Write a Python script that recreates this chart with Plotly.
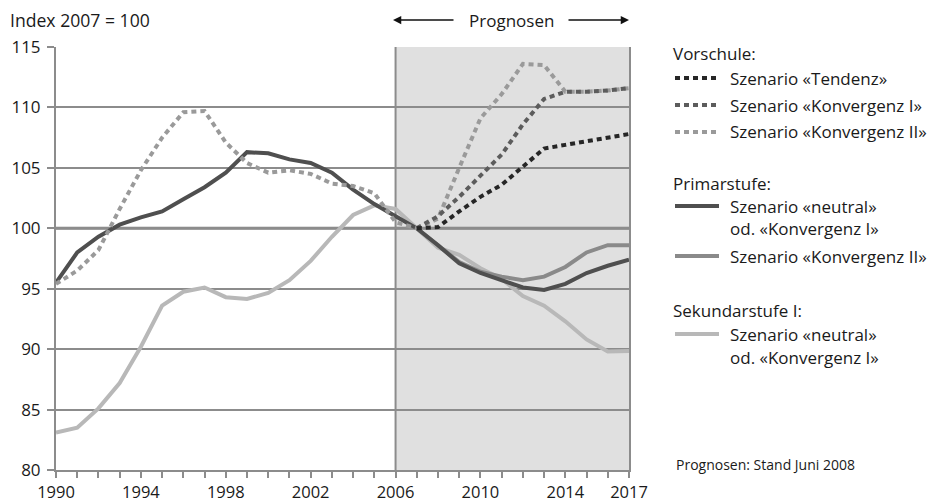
import plotly.graph_objects as go

# ---------------- data ----------------
years_hist = list(range(1990, 2008))
years_fc = list(range(2007, 2018))
years_all = list(range(1990, 2018))

# Vorschule (history, common to all scenarios)
vorschule_hist = [95.4, 96.5, 98.2, 101.6, 104.8, 107.5, 109.6, 109.7, 107.1, 105.4,
                  104.6, 104.8, 104.5, 103.7, 103.5, 102.9, 100.5, 100.0]
# Vorschule forecasts 2007-2017
vs_tendenz = [100.0, 100.1, 101.4, 102.6, 103.6, 105.1, 106.6, 106.9, 107.2, 107.5, 107.8]
vs_konv1 = [100.0, 101.0, 102.6, 104.3, 106.1, 108.6, 110.7, 111.3, 111.3, 111.4, 111.6]
vs_konv2 = [100.0, 100.8, 105.0, 109.1, 111.1, 113.6, 113.5, 111.3, 111.3, 111.4, 111.6]

# Primarstufe 1990-2017 (neutral / Konvergenz I)
primar = [95.5, 98.0, 99.3, 100.3, 100.9, 101.4, 102.4, 103.4, 104.6, 106.3,
          106.2, 105.7, 105.4, 104.6, 103.2, 102.0, 101.0, 100.0, 98.6, 97.1,
          96.3, 95.7, 95.1, 94.9, 95.4, 96.3, 96.9, 97.4]
# Primarstufe Konvergenz II forecast 2007-2017
primar_k2 = [100.0, 98.6, 97.2, 96.4, 96.0, 95.7, 96.0, 96.8, 98.0, 98.6, 98.6]

# Sekundarstufe I 1990-2017
sek = [83.1, 83.5, 85.1, 87.2, 90.2, 93.6, 94.75, 95.1, 94.3, 94.15,
       94.65, 95.7, 97.3, 99.3, 101.1, 101.9, 101.6, 100.0, 98.4, 97.8,
       96.7, 95.8, 94.4, 93.6, 92.3, 90.8, 89.8, 89.85]

tick_years = list(range(1990, 2018))
tick_labels = {1990: "1990", 1994: "1994", 1998: "1998", 2002: "2002",
               2006: "2006", 2010: "2010", 2014: "2014", 2017: "2017"}

# ---------------- styles ----------------
FONT = "Open Sans"
C_TEND = "#262626"
C_K1 = "#5c5c5c"
C_K2 = "#9a9a9a"
C_PRIM = "#4f4f4f"
C_PRIM2 = "#8a8a8a"
C_SEK = "#b8b8b8"
C_GRID = "#8c8c8c"
DOT = "5px,4px"
LW = 4
FS = 17

# the page adds an 8px body margin, so the figure is 8px smaller and
# reference pixel positions are shifted by 8px
OFF = 8
W, H = 936 - OFF, 503 - OFF
ML, MT = 56 - OFF, 47 - OFF
PW, PH = 573, 423
MR = W - ML - PW
MB = H - MT - PH


def px(x):
    return (x - OFF - ML) / PW


def py(y):
    return (H - MB - (y - OFF)) / PH


fig = go.Figure()

fig.add_trace(go.Scatter(x=years_all, y=sek, mode="lines",
                         line=dict(color=C_SEK, width=LW), showlegend=False))
fig.add_trace(go.Scatter(x=years_fc, y=primar_k2, mode="lines",
                         line=dict(color=C_PRIM2, width=LW), showlegend=False))
fig.add_trace(go.Scatter(x=years_all, y=primar, mode="lines",
                         line=dict(color=C_PRIM, width=LW), showlegend=False))
fig.add_trace(go.Scatter(x=years_hist, y=vorschule_hist, mode="lines",
                         line=dict(color=C_K2, width=LW, dash=DOT), showlegend=False))
fig.add_trace(go.Scatter(x=years_fc, y=vs_konv2, mode="lines",
                         line=dict(color=C_K2, width=LW, dash=DOT), showlegend=False))
fig.add_trace(go.Scatter(x=years_fc, y=vs_konv1, mode="lines",
                         line=dict(color=C_K1, width=LW, dash=DOT), showlegend=False))
fig.add_trace(go.Scatter(x=years_fc, y=vs_tendenz, mode="lines",
                         line=dict(color=C_TEND, width=LW, dash=DOT), showlegend=False))

shapes = []
# forecast shading
shapes.append(dict(type="rect", xref="x", yref="y", x0=2006, x1=2017, y0=80, y1=115,
                   fillcolor="#e0e0e0", line=dict(width=0), layer="below"))
# vertical separator at 2006
shapes.append(dict(type="line", xref="x", yref="y", x0=2006, x1=2006, y0=80, y1=115,
                   line=dict(color=C_GRID, width=2), layer="below"))
# index line at 100
shapes.append(dict(type="line", xref="x", yref="y", x0=1990, x1=2017, y0=100, y1=100,
                   line=dict(color="#7f7f7f", width=3), layer="below"))

annotations = []


def text(x, y, s, size=FS, anchor="left"):
    annotations.append(dict(x=px(x), y=py(y), xref="paper", yref="paper", text=s,
                            showarrow=False, xanchor=anchor, yanchor="middle",
                            borderpad=0,
                            font=dict(family=FONT, size=size, color="#1a1a1a")))


def sample(y, color, dash):
    shapes.append(dict(type="line", xref="paper", yref="paper",
                       x0=px(675), x1=px(719), y0=py(y), y1=py(y),
                       line=dict(color=color, width=LW, dash=dash)))


def arrow(tip, tail, y):
    annotations.append(dict(x=px(tip), y=py(y), xref="paper", yref="paper",
                            axref="pixel", ayref="pixel", ax=tail - tip, ay=0,
                            text="", showarrow=True, arrowhead=2, arrowsize=1.1,
                            arrowwidth=1.5, arrowcolor="#111"))


text(9, 20, "Index 2007 = 100", 17.6)
text(511, 20, "Prognosen", FS, "center")
arrow(393, 455, 20)
arrow(629, 567, 20)

# legend
LX = 729
TX = 672
text(TX, 53, "Vorschule:")
sample(78, C_TEND, DOT)
text(LX, 78, "Szenario «Tendenz»")
sample(105, C_K1, DOT)
text(LX, 105, "Szenario «Konvergenz I»")
sample(132, C_K2, DOT)
text(LX, 132, "Szenario «Konvergenz II»")

text(TX, 183, "Primarstufe:")
sample(206, C_PRIM, None)
text(LX, 206, "Szenario «neutral»")
text(LX, 229, "od. «Konvergenz I»")
sample(256, C_PRIM2, None)
text(LX, 256, "Szenario «Konvergenz II»")

text(TX, 310, "Sekundarstufe I:")
sample(334, C_SEK, None)
text(LX, 334, "Szenario «neutral»")
text(LX, 357, "od. «Konvergenz I»")

text(675, 464, "Prognosen: Stand Juni 2008", 14)

fig.update_layout(
    width=W, height=H,
    margin=dict(l=ML, r=MR, t=MT, b=MB, pad=0, autoexpand=False),
    paper_bgcolor="white", plot_bgcolor="white",
    shapes=shapes, annotations=annotations,
    showlegend=False,
    font=dict(family=FONT, size=FS, color="#1a1a1a"),
)

fig.update_xaxes(
    range=[1990, 2017], tickmode="array", tickvals=tick_years,
    ticktext=[tick_labels.get(y, "") for y in tick_years],
    ticks="outside", ticklen=6, tickwidth=1.5, tickcolor=C_GRID,
    showgrid=False, zeroline=False, showline=True, linecolor=C_GRID, linewidth=2,
    tickfont=dict(family=FONT, size=16.5, color="#1a1a1a"), ticklabelstandoff=0,
    automargin=False,
)
fig.update_yaxes(
    range=[80, 115], tickmode="linear", tick0=80, dtick=5,
    ticks="outside", ticklen=7, tickwidth=1.5, tickcolor=C_GRID,
    showgrid=True, gridcolor=C_GRID, gridwidth=1.5, zeroline=False,
    showline=True, linecolor=C_GRID, linewidth=2, mirror=True,
    tickfont=dict(family=FONT, size=FS, color="#1a1a1a"), ticklabelstandoff=3,
    automargin=False,
)

fig.write_html("out.html")
